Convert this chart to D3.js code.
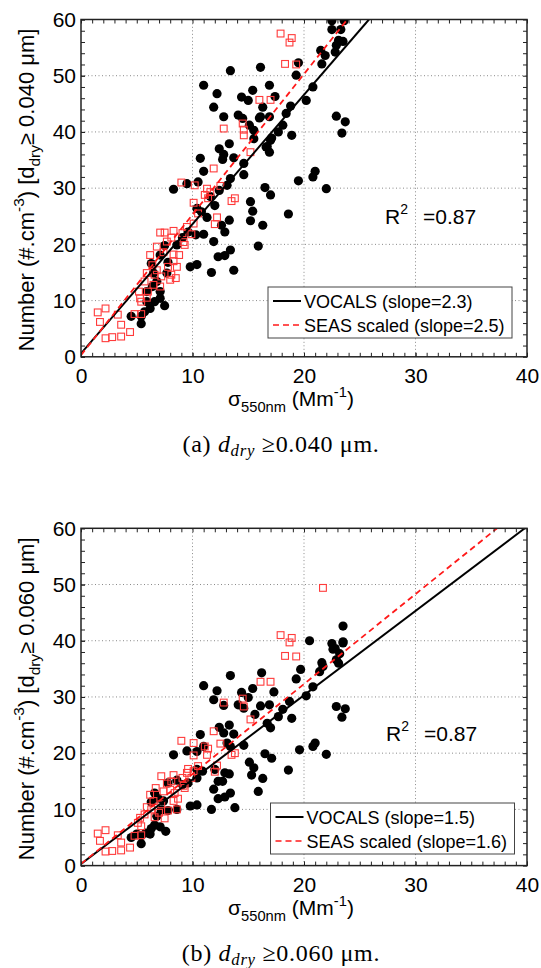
<!DOCTYPE html>
<html>
<head>
<meta charset="utf-8">
<script src="https://cdn.jsdelivr.net/npm/d3@7"></script>
<style>
    body { margin: 0; background: #fff; }
    svg text { font-family: "Liberation Sans", Arial, Helvetica, sans-serif; }
</style>
</head>
<body>
<script>

// tick values
var xMajor = [0, 10, 20, 30, 40];
var yMajor = [0, 10, 20, 30, 40, 50, 60];
var xMinor = d3.range(0, 41, 1);
var yMinor = d3.range(0, 61, 2);

// (a) d_dry >= 0.040 um : [sigma550, number]
var vocals040 = [
    [22.5,59.8],[23.6,59.8],[22.5,58.2],[23.3,58.2],[23.1,56.3],[22.9,55.4],[23.5,56.1],[21.5,54.5],
    [21.9,53.6],[21.6,52.1],[22.8,54.2],[19.5,52.3],[19.3,50.1],[13.4,50.9],[16.1,51.5],[11.0,48.3],
    [16.9,48.3],[15.4,47.4],[12.2,46.8],[14.4,46.2],[15.0,45.6],[17.4,46.3],[20.8,48.0],[20.2,45.6],
    [11.9,44.4],[16.3,44.4],[18.8,44.6],[18.4,43.3],[12.8,42.7],[14.1,43.0],[14.5,42.4],[16.1,42.7],
    [16.9,42.7],[18.1,41.2],[22.9,42.8],[23.7,41.8],[23.4,39.8],[15.1,41.2],[15.5,40.3],[17.7,40.0],
    [18.9,39.4],[17.0,38.5],[15.5,38.8],[13.3,37.9],[12.4,37.0],[12.8,36.0],[16.6,37.3],[16.9,36.4],
    [10.7,35.3],[12.7,35.1],[13.7,35.4],[14.6,34.4],[11.0,33.0],[13.4,31.7],[14.6,32.4],[21.0,33.0],
    [20.8,32.0],[19.5,31.3],[8.3,29.8],[9.5,30.8],[10.5,31.1],[13.1,30.5],[12.4,29.6],[16.5,30.1],
    [17.0,28.8],[22.0,29.9],[11.6,28.5],[12.0,26.9],[15.2,27.6],[15.4,25.9],[18.6,25.4],[10.4,26.4],
    [10.8,25.8],[11.3,24.8],[13.3,24.3],[12.6,23.4],[12.9,22.2],[15.2,24.2],[16.3,23.4],[9.6,22.2],
    [10.3,21.7],[11.0,21.8],[9.1,21.2],[8.6,19.9],[7.5,19.8],[11.9,20.5],[13.4,19.0],[15.9,19.7],
    [12.3,17.8],[12.9,18.0],[9.8,16.0],[10.4,16.4],[11.7,15.0],[13.7,15.4],[6.3,16.6],[7.1,18.1],
    [7.7,14.9],[6.8,13.4],[6.4,12.5],[7.1,11.6],[5.9,9.8],[6.6,9.8],[7.1,10.4],[7.5,9.1],
    [6.2,8.6],[5.7,8.0],[5.4,7.2],[4.5,7.2],[5.4,5.9],[7.8,16.8],[6.5,14.9],[5.9,11.6],
    [16.7,37.4],[17.1,38.9],[16.0,42.5]
];

var seas040 = [
    [17.9,57.5],[18.9,56.7],[18.7,55.9],[18.3,52.1],[19.3,52.0],[16.0,45.7],[17.0,45.7],[12.8,40.6],
    [14.5,41.5],[14.6,40.4],[14.6,39.4],[15.2,36.4],[11.9,33.5],[9.0,31.0],[10.2,30.5],[11.3,29.9],
    [11.6,29.3],[12.5,30.4],[11.1,28.8],[11.4,28.2],[13.8,28.2],[13.5,27.7],[10.1,27.4],[10.5,25.5],
    [12.2,24.8],[12.0,23.6],[10.1,23.7],[9.5,23.1],[9.9,21.8],[9.1,22.0],[8.3,22.4],[7.5,22.1],
    [7.1,22.1],[8.1,21.2],[7.7,20.5],[9.2,20.4],[9.3,19.9],[6.8,19.6],[7.4,18.6],[8.3,18.2],
    [8.8,18.1],[8.3,17.0],[8.6,16.0],[7.8,16.0],[8.1,14.6],[8.5,14.0],[8.0,13.7],[7.2,14.3],
    [6.6,14.6],[5.9,14.9],[5.7,13.4],[6.5,12.8],[7.1,12.5],[6.0,11.6],[5.2,11.6],[5.3,10.4],
    [5.4,9.8],[5.9,10.5],[4.8,7.6],[5.4,7.6],[1.5,7.9],[2.2,8.6],[3.3,7.5],[1.7,6.2],
    [3.6,5.7],[2.2,3.3],[2.8,3.5],[3.6,3.6],[4.4,4.4],[6.4,16.3],[6.2,18.1],[6.8,15.4]
];

// (b) d_dry >= 0.060 um
var vocals060 = [
    [23.5,42.6],[22.5,39.5],[23.5,39.8],[22.8,38.6],[23.2,37.7],[22.9,36.6],[21.6,36.1],[21.4,34.5],
    [20.5,40.0],[19.7,34.9],[19.3,33.2],[20.8,31.8],[20.2,30.2],[16.2,34.3],[13.4,33.8],[11.0,32.0],
    [12.2,31.1],[14.4,30.8],[15.4,31.5],[15.0,29.9],[17.3,30.9],[11.9,29.5],[12.8,28.5],[14.1,28.6],
    [14.6,28.0],[16.1,28.4],[16.9,28.6],[18.7,29.2],[18.1,27.8],[22.9,28.3],[23.7,27.9],[23.4,26.4],
    [15.6,26.9],[17.7,26.5],[18.9,26.2],[16.7,25.3],[17.0,24.5],[12.4,24.6],[13.3,25.0],[12.8,23.6],
    [13.7,23.4],[10.7,23.3],[13.1,21.8],[14.6,21.4],[11.0,21.2],[13.4,21.2],[8.3,19.7],[9.5,20.4],
    [10.4,20.3],[16.5,19.9],[17.1,19.1],[19.6,20.6],[21.0,21.8],[20.8,21.2],[22.0,19.8],[15.1,18.4],
    [15.5,17.4],[15.3,16.1],[16.3,15.5],[18.6,17.0],[10.4,17.1],[10.9,16.8],[12.0,17.1],[12.9,16.5],
    [12.3,15.0],[12.7,15.0],[13.3,16.3],[11.9,13.6],[15.9,13.2],[12.3,11.9],[12.9,12.2],[13.4,12.9],
    [13.8,10.3],[11.7,10.0],[9.8,10.6],[10.4,10.8],[9.1,14.4],[9.6,14.7],[8.6,15.2],[7.8,14.7],
    [6.6,12.9],[6.3,11.3],[7.4,11.5],[7.8,9.8],[7.2,9.9],[6.8,8.8],[7.1,6.9],[7.6,6.1],
    [6.3,6.6],[5.8,5.8],[6.2,5.6],[5.4,5.3],[4.5,5.0],[5.4,3.9],[5.0,5.6],[6.6,7.2],
    [6.9,12.0],[8.6,10.0],[10.4,15.6],[22.6,38.5],[23.1,36.0],[21.7,35.4],[23.5,39.6]
];

var seas060 = [
    [21.7,49.4],[17.9,41.0],[18.9,40.5],[18.7,39.7],[18.3,37.3],[19.3,37.2],[16.1,32.7],[17.0,32.7],
    [12.8,29.0],[14.5,29.7],[14.6,28.3],[15.2,26.0],[11.9,23.9],[9.0,22.2],[10.1,21.8],[11.1,21.2],
    [11.4,20.8],[12.5,21.7],[13.8,20.0],[13.5,19.7],[10.1,19.6],[11.3,19.7],[10.5,17.7],[12.2,17.8],
    [12.0,16.7],[10.1,16.8],[9.5,16.5],[9.9,15.6],[9.1,15.6],[8.3,16.1],[7.2,15.9],[8.1,15.0],
    [7.7,14.6],[9.2,14.2],[9.3,13.8],[6.7,13.8],[7.4,13.2],[8.4,12.9],[8.7,11.9],[8.3,11.5],
    [8.6,10.0],[7.8,9.8],[7.2,10.9],[6.5,11.5],[6.3,10.0],[5.9,10.4],[5.7,9.1],[6.6,8.6],
    [7.0,9.4],[7.5,8.4],[5.3,8.5],[5.1,7.6],[5.4,7.0],[4.8,5.3],[5.4,5.4],[1.5,5.7],
    [2.2,6.3],[3.3,5.4],[1.7,4.4],[3.6,4.1],[2.2,2.5],[2.8,2.6],[3.6,2.7],[4.4,3.2],
    [6.2,12.6],[8.0,13.5],[9.6,17.2]
];

// linear fits: [slope, intercept]
var fitVocals040 = [2.3, 0.6];
var fitSeas040 = [2.5, 0.3];
var fitVocals060 = [1.5, 0.3];
var fitSeas060 = [1.6, 0.3];

var r2Values = ["0.87", "0.87"];
var legendVocals = ["VOCALS (slope=2.3)", "VOCALS (slope=1.5)"];
var legendSeas = ["SEAS scaled (slope=2.5)", "SEAS scaled (slope=1.6)"];
var cutSizes = ["0.040", "0.060"];
var captionTags = ["(a) ", "(b) "];

var W = 541, H = 968;
var plotLeft = 81, plotRight = 527;

var panels = [
    { top: 19.5, vocals: vocals040, seas: seas040, fitV: fitVocals040, fitS: fitSeas040,
      legend: [268, 287], r2: [385, 223.5] },
    { top: 528.3, vocals: vocals060, seas: seas060, fitV: fitVocals060, fitS: fitSeas060,
      legend: [270.5, 803], r2: [386, 740.5] }
];

var svg = d3.select("body")
    .append("svg")
        .attr("width", W)
        .attr("height", H);

// rich text helper: parts = [text, shift('sup'|'sub'|null), italic]
function rich(node, parts, size, subShift) {
    var cur = 0;
    parts.forEach(function (p) {
        var target = p[1] === "sup" ? -0.42 * size : p[1] === "sub" ? (subShift || 0.3) * size : 0;
        var t = node.append("tspan")
            .attr("dy", target - cur)
            .text(p[0]);
        if (p[1]) t.attr("font-size", size * 0.7);
        if (p[2]) t.style("font-style", "italic");
        cur = target;
    });
}

function drawPanel(p, i) {

    var bottom = p.top + 337.3;

    var x = d3.scaleLinear().domain([0, 40]).range([plotLeft, plotRight]);
    var y = d3.scaleLinear().domain([0, 60]).range([bottom, p.top]);

    var g = svg.append("g");

    // grid
    g.selectAll(".gx")
        .data(xMajor.slice(1, -1))
        .enter().append("line")
            .attr("x1", function (d) { return x(d); })
            .attr("x2", function (d) { return x(d); })
            .attr("y1", y(0))
            .attr("y2", y(60))
            .attr("stroke", "#8a8a8a")
            .attr("stroke-dasharray", "1,2.5");

    g.selectAll(".gy")
        .data(yMajor.slice(1, -1))
        .enter().append("line")
            .attr("x1", x(0))
            .attr("x2", x(40))
            .attr("y1", function (d) { return y(d); })
            .attr("y2", function (d) { return y(d); })
            .attr("stroke", "#8a8a8a")
            .attr("stroke-dasharray", "1,2.5");

    var clip = "clip" + i;
    svg.append("clipPath")
        .attr("id", clip)
        .append("rect")
            .attr("x", x(0))
            .attr("y", y(60))
            .attr("width", x(40) - x(0))
            .attr("height", y(0) - y(60));

    var marks = g.append("g").attr("clip-path", "url(#" + clip + ")");

    marks.selectAll("circle")
        .data(p.vocals)
        .enter().append("circle")
            .attr("cx", function (d) { return x(d[0]); })
            .attr("cy", function (d) { return y(d[1]); })
            .attr("r", 4.6)
            .attr("fill", "#000");

    marks.selectAll("rect.sq")
        .data(p.seas)
        .enter().append("rect")
            .attr("class", "sq")
            .attr("x", function (d) { return x(d[0]) - 3.4; })
            .attr("y", function (d) { return y(d[1]) - 3.4; })
            .attr("width", 6.8)
            .attr("height", 6.8)
            .attr("fill", "none")
            .attr("stroke", "#ff3b3b")
            .attr("stroke-width", 1.1);

    function fitLine(f) {
        var xEnd = Math.min(40, (60 - f[1]) / f[0]);
        return [[0, f[1]], [xEnd, f[0] * xEnd + f[1]]];
    }

    var line = d3.line()
        .x(function (d) { return x(d[0]); })
        .y(function (d) { return y(d[1]); });

    marks.append("path")
        .attr("d", line(fitLine(p.fitV)))
        .attr("stroke", "#000")
        .attr("stroke-width", 2)
        .attr("fill", "none");

    marks.append("path")
        .attr("d", line(fitLine(p.fitS)))
        .attr("stroke", "#ff1a1a")
        .attr("stroke-width", 1.8)
        .attr("stroke-dasharray", "6,4")
        .attr("fill", "none");

    // ticks, all four sides, pointing in
    function ticks(axis, tx, ty) {
        var a = g.append("g")
            .attr("transform", "translate(" + tx + "," + ty + ")")
            .call(axis.tickSize(-4).tickSizeOuter(0));
        a.select(".domain").remove();
        a.selectAll("line").attr("stroke", "#222");
        return a;
    }

    ticks(d3.axisBottom(x).tickValues(xMinor).tickFormat(""), 0, y(0));
    ticks(d3.axisTop(x).tickValues(xMinor).tickFormat(""), 0, y(60));
    ticks(d3.axisLeft(y).tickValues(yMinor).tickFormat(""), x(0), 0);
    ticks(d3.axisRight(y).tickValues(yMinor).tickFormat(""), x(40), 0);

    var xl = ticks(d3.axisBottom(x).tickValues(xMajor).tickPadding(11), 0, y(0));
    xl.attr("font-size", 21).attr("font-family", null);
    xl.selectAll("text").attr("fill", "#000");

    var yl = ticks(d3.axisLeft(y).tickValues(yMajor).tickPadding(5), x(0), 0);
    yl.attr("font-size", 21).attr("font-family", null);
    yl.selectAll("text").attr("fill", "#000");

    g.append("rect")
        .attr("x", x(0))
        .attr("y", y(60))
        .attr("width", x(40) - x(0))
        .attr("height", y(0) - y(60))
        .attr("fill", "none")
        .attr("stroke", "#222")
        .attr("stroke-width", 1.5);

    // axis titles
    var xt = g.append("text")
        .attr("x", 291)
        .attr("y", bottom + 49)
        .attr("text-anchor", "middle")
        .attr("font-size", 21);
    rich(xt, [["\u03c3"], ["550nm", "sub"], [" (Mm"], ["-1", "sup"], [")"]], 21);

    var yt = g.append("text")
        .attr("transform", "translate(33.5," + (p.top + 170.5) + ") rotate(-90)")
        .attr("text-anchor", "middle")
        .attr("font-size", 22);
    rich(yt, [["Number (#.cm"], ["-3", "sup"], [") [d"], ["dry", "sub"],
              ["\u2265 " + cutSizes[i] + " \u03bcm]"]], 22);

    // R^2
    var r = g.append("text")
        .attr("x", p.r2[0])
        .attr("y", p.r2[1])
        .attr("font-size", 21);
    r.append("tspan").text("R");
    r.append("tspan").attr("dy", -10).attr("font-size", 14).text("2");
    g.append("text")
        .attr("x", p.r2[0] + 38)
        .attr("y", p.r2[1])
        .attr("font-size", 21)
        .text("=" + r2Values[i]);

    // legend
    var lx = p.legend[0], ly = p.legend[1];
    var lg = g.append("g");
    lg.append("rect")
        .attr("x", lx)
        .attr("y", ly)
        .attr("width", 244)
        .attr("height", 51)
        .attr("fill", "#fff")
        .attr("stroke", "#444")
        .attr("stroke-width", 1);

    lg.append("line")
        .attr("x1", lx + 5).attr("x2", lx + 33)
        .attr("y1", ly + 14).attr("y2", ly + 14)
        .attr("stroke", "#000").attr("stroke-width", 2);
    lg.append("line")
        .attr("x1", lx + 5).attr("x2", lx + 33)
        .attr("y1", ly + 38).attr("y2", ly + 38)
        .attr("stroke", "#ff1a1a").attr("stroke-width", 1.6)
        .attr("stroke-dasharray", "6,4");

    lg.append("text")
        .attr("x", lx + 36)
        .attr("y", ly + 21)
        .attr("font-size", 18)
        .text(legendVocals[i]);
    lg.append("text")
        .attr("x", lx + 36)
        .attr("y", ly + 45)
        .attr("font-size", 18)
        .text(legendSeas[i]);

    // caption
    var cap = g.append("text")
        .attr("x", 281)
        .attr("y", bottom + 95)
        .attr("text-anchor", "middle")
        .attr("font-size", 24)
        .attr("letter-spacing", 0.7)
        .style("font-family", "'Liberation Serif', 'DejaVu Serif', serif");
    rich(cap, [[captionTags[i]], ["d", null, true], ["dry", "sub", true],
               [" \u2265" + cutSizes[i] + " \u03bcm."]], 24, 0.18);
}

panels.forEach(drawPanel);

</script>
</body>
</html>
